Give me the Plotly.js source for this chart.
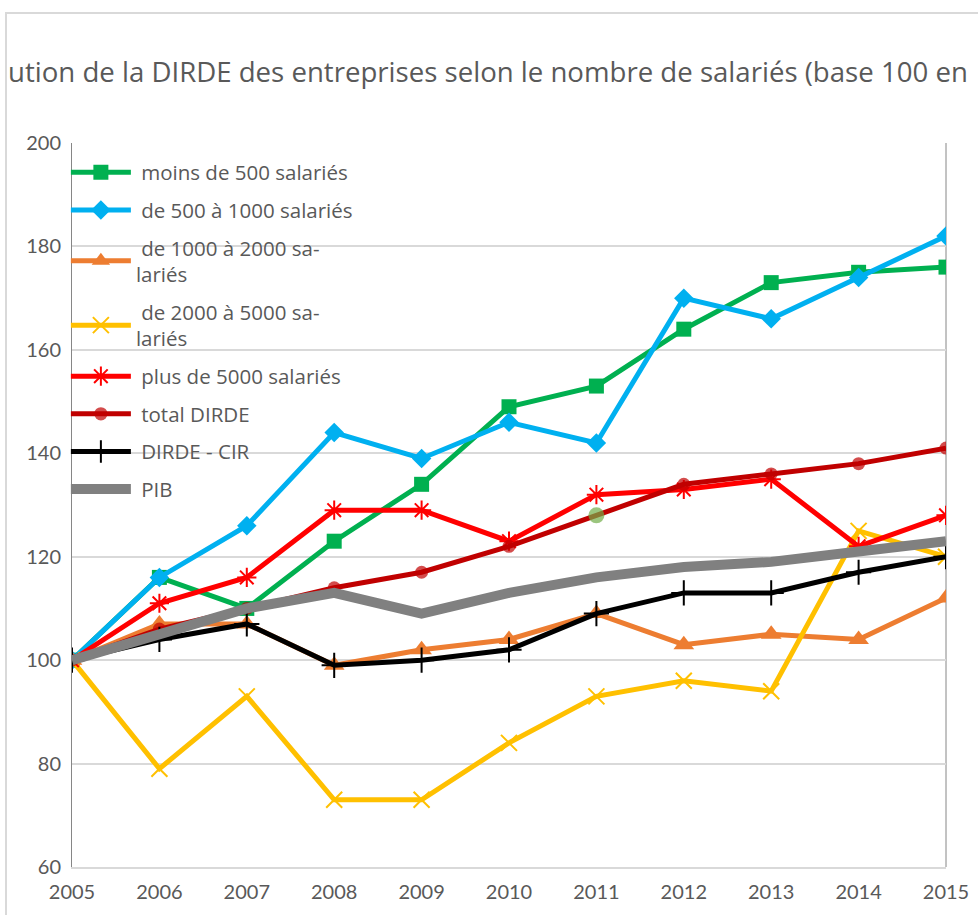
<!DOCTYPE html>
<html><head><meta charset="utf-8">
<script src="https://cdn.plot.ly/plotly-3.0.1.min.js"></script>
<style>body{margin:0;background:#fff;}#wrap{position:relative;width:978px;height:915px;overflow:hidden;}
#frame{position:absolute;left:5px;top:12px;width:1000px;height:1000px;border-left:2px solid #d9d9d9;border-top:2px solid #d9d9d9;pointer-events:none;}</style>
</head><body><div id="wrap"><div id="chart" style="width:978px;height:915px;"></div><div id="frame"></div></div>
<script>
const titleText = 'ution de la DIRDE des entreprises selon le nombre de salariés (base 100 en';
const years = [2005,2006,2007,2008,2009,2010,2011,2012,2013,2014,2015];
const moins500 = [100,116,110,123,134,149,153,164,173,175,176];
const de500a1000 = [100,116,126,144,139,146,142,170,166,174,182];
const de1000a2000 = [100,107,107,99,102,104,109,103,105,104,112];
const de2000a5000 = [100,79,93,73,73,84,93,96,94,125,120];
const plus5000 = [100,111,116,129,129,123,132,133,135,122,128];
const totalDIRDE = [100,106,110,114,117,122,128,134,136,138,141];
const dirdeCIR = [100,104,107,99,100,102,109,113,113,117,120];
const pib = [100,105,110,113,109,113,116,118,119,121,123];
const names = ["\u00a0moins de 500 salariés","\u00a0de 500 à 1000 salariés","\u00a0de 1000 à 2000 sa-<br>lariés","\u00a0de 2000 à 5000 sa-<br>lariés","\u00a0plus de 5000 salariés","\u00a0total DIRDE","\u00a0DIRDE - CIR","\u00a0PIB"];

function tr(y, i, color, width, marker){
  const t = {x: years, y: y, name: names[i], type:'scatter', mode: marker ? 'lines+markers' : 'lines',
    legendgroup: 'g'+i, line:{color:color, width:width}};
  if (marker) t.marker = marker;
  return t;
}
const totalColors = years.map((yr)=> yr===2011 ? '#70ad47' : '#c00000');
const totalSizes = years.map((yr)=> yr===2011 ? 16 : 13);
const data = [
  tr(moins500,0,'#00b050',5,{symbol:'square',size:15,color:'#00b050'}),
  tr(de500a1000,1,'#00b0f0',5,{symbol:'diamond',size:15,color:'#00b0f0'}),
  tr(de1000a2000,2,'#ed7d31',5,{symbol:'triangle-up',size:18,color:'#ed7d31'}),
  tr(de2000a5000,3,'#ffc000',5,{symbol:'x-thin-open',size:16,color:'#ffc000',line:{width:2,color:'#ffc000'}}),
  tr(plus5000,4,'#ff0000',5,{symbol:'asterisk-open',size:16,color:'#ff0000',line:{width:2,color:'#ff0000'}}),
  tr(totalDIRDE,5,'#c00000',5,{symbol:'circle',size:totalSizes,color:totalColors,line:{width:0}}),
  tr(dirdeCIR,6,'#000000',5,{symbol:'cross-thin-open',size:18,color:'#000000',line:{width:2,color:'#000000'}}),
  tr(pib,7,'#808080',10,null)
];
const layout = {
  width:978, height:915,
  margin:{l:72, r:32, t:143, b:48},
  paper_bgcolor:'#fff', plot_bgcolor:'#fff',
  font:{family:'Lato, sans-serif', color:'#595959'},
  title:{text:titleText,
    font:{size:27.6, color:'#595959', family:'"Open Sans", sans-serif'}, x:8/978, xref:'container', xanchor:'left', y:0.921, yref:'container', yanchor:'middle'},
  xaxis:{range:[2005,2015], tickvals:years, ticktext:years.map(String), showgrid:false, zeroline:false,
    showline:true, linecolor:'#d9d9d9', linewidth:2, ticks:'', tickfont:{size:20,color:'#595959'}, ticklabelstandoff:6, fixedrange:true},
  yaxis:{range:[60,200], dtick:20, tick0:60, showgrid:true, gridcolor:'#d9d9d9', gridwidth:2, zeroline:false,
    showline:true, linecolor:'#868686', linewidth:1, ticks:'', tickfont:{size:20,color:'#595959'}, ticklabelstandoff:6},
  shapes:[{type:'line', xref:'paper', yref:'paper', x0:1, x1:1, y0:0, y1:1, line:{color:'#868686', width:1}, layer:'below'}],
  showlegend:true,
  legend:{x:-0.007, y:0.987, xanchor:'left', yanchor:'top', bgcolor:'rgba(0,0,0,0)', traceorder:'grouped', tracegroupgap:8,
    itemwidth:60, font:{size:20.5, color:'#595959', family:'"Open Sans", sans-serif'}}
};
Plotly.newPlot('chart', data, layout, {displayModeBar:false, staticPlot:true});
</script></body></html>
